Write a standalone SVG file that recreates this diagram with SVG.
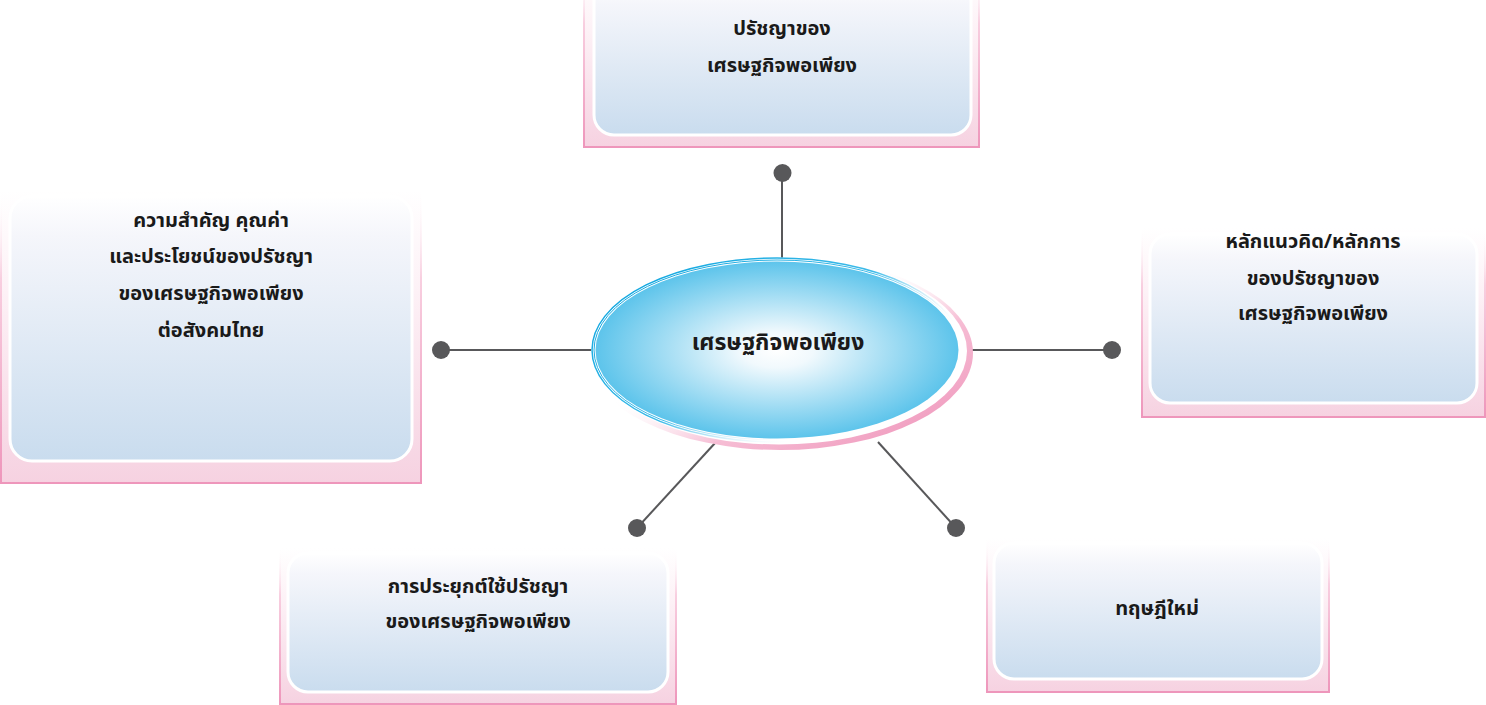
<svg xmlns="http://www.w3.org/2000/svg" width="1486" height="705" viewBox="0 0 1486 705">
<style>
.outer{fill:url(#outerFill);stroke:url(#outerStroke);stroke-width:2}
.inner{fill:url(#innerFill);stroke:#ffffff;stroke-width:3}
.lbl{font-family:"Noto Sans Thai","Noto Sans","DejaVu Sans",sans-serif;font-weight:bold;font-size:20px;fill:#1a1a1a;text-anchor:middle}
.ctr{font-size:23px}
.con{stroke:#58585a;stroke-width:2;fill:none}
.dot{fill:#58585a}
</style>
<defs>
<linearGradient id="outerFill" x1="0" y1="0" x2="0" y2="1">
<stop offset="0" stop-color="#ffffff"/>
<stop offset="0.35" stop-color="#fdf1f6"/>
<stop offset="1" stop-color="#f6d2e1"/>
</linearGradient>
<linearGradient id="outerStroke" x1="0" y1="0" x2="0" y2="1">
<stop offset="0" stop-color="#ffffff" stop-opacity="0"/>
<stop offset="0.3" stop-color="#f8cfe0"/>
<stop offset="1" stop-color="#ee96bb"/>
</linearGradient>
<linearGradient id="innerFill" x1="0" y1="0" x2="0" y2="1">
<stop offset="0" stop-color="#ffffff"/>
<stop offset="0.15" stop-color="#f5f6fb"/>
<stop offset="1" stop-color="#c9dcee"/>
</linearGradient>
<radialGradient id="ellFill" cx="0.5" cy="0.5" r="0.5">
<stop offset="0" stop-color="#ffffff"/>
<stop offset="0.2" stop-color="#f1f9fd"/>
<stop offset="1" stop-color="#5dc4eb"/>
</radialGradient>
<linearGradient id="pinkRing" x1="0" y1="0" x2="1" y2="1">
<stop offset="0.4" stop-color="#ffffff" stop-opacity="0"/>
<stop offset="0.65" stop-color="#f6bdd4"/>
<stop offset="1" stop-color="#ee8fb7"/>
</linearGradient>
<linearGradient id="blueRing" x1="0" y1="0.2" x2="1" y2="0.9">
<stop offset="0" stop-color="#0fa6df"/>
<stop offset="0.45" stop-color="#3dbbe9"/>
<stop offset="0.75" stop-color="#ffffff" stop-opacity="0"/>
</linearGradient>
</defs>

<g id="connectors">
<line class="con" x1="782" y1="173" x2="782" y2="262"/>
<circle class="dot" cx="782.5" cy="173" r="9"/>
<line class="con" x1="441" y1="350" x2="594" y2="350"/>
<circle class="dot" cx="441" cy="350" r="9"/>
<line class="con" x1="970" y1="350" x2="1112" y2="350"/>
<circle class="dot" cx="1112" cy="350" r="9"/>
<line class="con" x1="716" y1="442" x2="637" y2="528"/>
<circle class="dot" cx="637" cy="528" r="9"/>
<line class="con" x1="878" y1="442" x2="956" y2="528"/>
<circle class="dot" cx="956" cy="528" r="9"/>
</g>

<g id="center">
<ellipse cx="780" cy="353" rx="193" ry="97" fill="url(#pinkRing)"/>
<ellipse cx="779" cy="351" rx="188" ry="93.5" fill="#ffffff"/>
<ellipse cx="777" cy="350" rx="185" ry="92" fill="none" stroke="url(#blueRing)" stroke-width="1.5"/>
<ellipse cx="777" cy="350" rx="183" ry="90" fill="none" stroke="url(#blueRing)" stroke-width="1"/>
<ellipse cx="777" cy="350" rx="181.5" ry="88.5" fill="url(#ellFill)"/>
<text class="lbl ctr" x="778" y="350">เศรษฐกิจพอเพียง</text>
</g>

<g id="node-top">
<rect class="outer" x="584" y="-30" width="395" height="177"/>
<rect class="inner" x="594" y="-20" width="377" height="155" rx="20"/>
<text class="lbl" x="782" y="35">ปรัชญาของ</text>
<text class="lbl" x="782" y="72">เศรษฐกิจพอเพียง</text>
</g>

<g id="node-left">
<rect class="outer" x="1" y="190" width="420" height="293"/>
<rect class="inner" x="10" y="196" width="402" height="265" rx="22"/>
<text class="lbl" x="211" y="227">ความสำคัญ  คุณค่า</text>
<text class="lbl" x="211" y="263">และประโยชน์ของปรัชญา</text>
<text class="lbl" x="211" y="300">ของเศรษฐกิจพอเพียง</text>
<text class="lbl" x="211" y="337">ต่อสังคมไทย</text>
</g>

<g id="node-right">
<rect class="outer" x="1142" y="228" width="343" height="189"/>
<rect class="inner" x="1150" y="234" width="327" height="169" rx="20"/>
<text class="lbl" x="1313" y="248">หลักแนวคิด/หลักการ</text>
<text class="lbl" x="1313" y="285">ของปรัชญาของ</text>
<text class="lbl" x="1313" y="320">เศรษฐกิจพอเพียง</text>
</g>

<g id="node-bottom-left">
<rect class="outer" x="280" y="548" width="396" height="156"/>
<rect class="inner" x="288" y="553" width="380" height="139" rx="20"/>
<text class="lbl" x="478" y="593">การประยุกต์ใช้ปรัชญา</text>
<text class="lbl" x="478" y="628">ของเศรษฐกิจพอเพียง</text>
</g>

<g id="node-bottom-right">
<rect class="outer" x="987" y="538" width="342" height="154"/>
<rect class="inner" x="994" y="543" width="328" height="136" rx="20"/>
<text class="lbl" x="1157" y="615">ทฤษฎีใหม่</text>
</g>
</svg>
